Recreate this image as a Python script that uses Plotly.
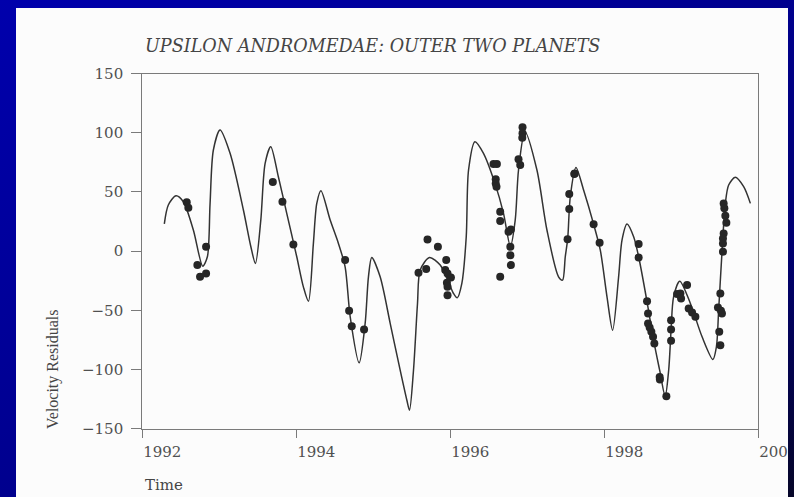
import base64
import plotly.graph_objects as go

# ---- Data ----
# Model curve (two outer planets), vertices
curve_year = [1992.286, 1992.338, 1992.438, 1992.533, 1992.663, 1992.785, 1992.845, 1992.88, 1992.923,
              1993.01, 1993.14, 1993.313, 1993.41, 1993.469, 1993.539, 1993.595, 1993.668, 1993.767,
              1993.876, 1994.006, 1994.092, 1994.158, 1994.222, 1994.266, 1994.32, 1994.44, 1994.547,
              1994.634, 1994.70, 1994.816, 1994.894, 1994.937, 1994.98, 1995.089, 1995.22, 1995.349,
              1995.436, 1995.47, 1995.522, 1995.574, 1995.609, 1995.73, 1995.869, 1995.956, 1996.042,
              1996.09, 1996.15, 1996.207, 1996.237, 1996.32, 1996.431, 1996.58, 1996.691, 1996.78,
              1996.843, 1996.886, 1996.97, 1997.125, 1997.255, 1997.406, 1997.458, 1997.493, 1997.525,
              1997.558, 1997.632, 1997.731, 1997.861, 1997.948, 1998.035, 1998.108, 1998.186, 1998.23,
              1998.295, 1998.381, 1998.446, 1998.555, 1998.64, 1998.719, 1998.79, 1998.836, 1998.867,
              1998.90, 1998.98, 1999.118, 1999.27, 1999.41, 1999.456, 1999.485, 1999.53, 1999.572,
              1999.615, 1999.70, 1999.81, 1999.897]
curve_vel = [23, 38.9, 46.7, 41.7, 17.8, -12.7, -4.8, 40, 85.4,
             102.3, 82.6, 34.7, 3.7, -10.4, 26.2, 74.1, 88.2, 62.8,
             31.9, -4.8, -30.2, -42.3, 6.5, 40.3, 51, 26.2, 6.5,
             -13.3, -55.5, -94.4, -61.1, -21.7, -5.4, -21.7, -61.2, -100.6,
             -126, -134.4, -100.6, -44.2, -16, -5.4, -11.8, -23, -35.8,
             -39.5, -27.3, 12.1, 68.5, 92.4, 82.6, 57.2, 31.9, 4,
             26.2, 68.5, 100.9, 68.5, 17.8, -21.7, -24.5, -4.8, 10.7,
             45.9, 70.7, 51.6, 22.8, 0.8, -38.6, -66.8, -21.7, 9.3,
             22.8, 12.1, -4.8, -42.8, -75.2, -100.6, -122.6, -100.6, -66.8,
             -38.6, -25.4, -44.2, -72.4, -91.5, -80.9, -49.9, 0.8, 40.3,
             55.8, 62.3, 54.4, 40.3]

# Observed velocity residuals
obs_year = [1992.577, 1992.598, 1992.715, 1992.75, 1992.828, 1992.828,
            1993.695, 1993.82, 1993.962,
            1994.634, 1994.686, 1994.72, 1994.88,
            1995.587, 1995.687, 1995.704, 1995.839, 1995.947, 1995.934, 1995.964, 1996.008,
            1995.956, 1995.964, 1995.964,
            1996.561, 1996.605, 1996.59, 1996.59, 1996.60, 1996.648, 1996.648, 1996.648,
            1996.756, 1996.787, 1996.78, 1996.78, 1996.787,
            1996.886, 1996.908, 1996.938, 1996.938, 1996.935,
            1997.61, 1997.616, 1997.545, 1997.545, 1997.523, 1997.861, 1997.939,
            1998.446, 1998.446, 1998.555, 1998.568, 1998.568, 1998.589, 1998.611, 1998.633, 1998.65,
            1998.719, 1998.722, 1998.806, 1998.867, 1998.867, 1998.867,
            1998.945, 1998.988, 1998.997, 1999.075, 1999.096, 1999.14, 1999.183,
            1999.55, 1999.559, 1999.572, 1999.585, 1999.55, 1999.541, 1999.541, 1999.541,
            1999.507, 1999.476, 1999.515, 1999.528, 1999.493, 1999.507]
obs_vel = [41.2, 36.6, -11.8, -21.7, -18.9, 3.7,
           58.3, 41.7, 5.6,
           -7.6, -50.4, -63.4, -66.2,
           -18.3, -15.2, 9.9, 3.7, -7.6, -16, -18.9, -22.3,
           -26.8, -30.2, -37.2,
           73.5, 73.5, 60.6, 57, 54.4, 33.2, 25.4, -21.7,
           16.3, 18.3, 3.7, -3.4, -11.8,
           77.5, 72.7, 104.6, 99.5, 95.8,
           65.1, 65.6, 48.2, 35.5, 10.1, 22.6, 7,
           5.9, -5.4, -42.3, -52.7, -61.1, -64.5, -68.2, -72.4, -78,
           -106.3, -108.4, -122.6, -58.3, -66.2, -75.8,
           -36.3, -35.8, -40, -28.7, -48.4, -51.8, -55.5,
           40.3, 36.1, 29.9, 24, 14.9, 10.7, 6.5, -0.6,
           -35.8, -47.6, -50.4, -52.7, -68.2, -79.5]

x_ticks = [1992, 1994, 1996, 1998, 2000]
y_ticks = [-150, -100, -50, 0, 50, 100, 150]

TITLE = "UPSILON ANDROMEDAE: OUTER TWO PLANETS"
Y_TITLE = "Velocity Residuals"
X_TITLE = "Time"

W, H = 794, 497

# ---- Blue slide frame (gradient) with a hole for the white page ----
svg = (
    f'<svg xmlns="http://www.w3.org/2000/svg" width="{W}" height="{H}" viewBox="0 0 {W} {H}">'
    '<defs><linearGradient id="g" x1="0" y1="0" x2="1" y2="1">'
    '<stop offset="0" stop-color="#0000AC"/>'
    '<stop offset="0.5" stop-color="#00008E"/>'
    '<stop offset="0.75" stop-color="#000070"/>'
    '<stop offset="1" stop-color="#060628"/>'
    '</linearGradient></defs>'
    f'<path fill="url(#g)" fill-rule="evenodd" d="M0 0H{W}V{H}H0Z M16 8H788V{H}H16Z"/>'
    '</svg>'
)
svg_uri = "data:image/svg+xml;base64," + base64.b64encode(svg.encode()).decode()

fig = go.Figure()
fig.add_trace(go.Scatter(
    x=curve_year, y=curve_vel, mode="lines",
    line=dict(color="#333333", width=1.5, shape="spline", smoothing=0.8),
    hoverinfo="skip", showlegend=False))
fig.add_trace(go.Scatter(
    x=obs_year, y=obs_vel, mode="markers",
    marker=dict(color="#262626", size=8, symbol="circle", line=dict(width=0)),
    showlegend=False))

def px(x):
    return x / W

def py(y):
    return 1 - y / H

axis_font = dict(family="DejaVu Serif", size=15, color="#505050")

fig.update_layout(
    width=W, height=H,
    margin=dict(l=0, r=0, t=0, b=0, pad=0, autoexpand=False),
    paper_bgcolor="#FCFCFC",
    plot_bgcolor="rgba(0,0,0,0)",
    xaxis=dict(
        domain=[px(142.3), px(758.3)], range=[1992, 2000],
        tickvals=x_ticks, ticktext=[str(v) for v in x_ticks],
        showgrid=False, zeroline=False, automargin=False,
        showline=True, linecolor="#7a7a7a", linewidth=1.2, mirror=True,
        ticks="outside", ticklen=8, tickwidth=1.2, tickcolor="#7a7a7a",
        tickfont=axis_font, ticklabelshift=20, ticklabelstandoff=1,
        ticklabeloverflow="allow",
    ),
    yaxis=dict(
        domain=[py(428.7), py(73.5)], range=[-150, 150],
        tickvals=y_ticks,
        showgrid=False, zeroline=False, automargin=False,
        showline=True, linecolor="#7a7a7a", linewidth=1.2, mirror=True,
        ticks="outside", ticklen=10, tickwidth=1.2, tickcolor="#7a7a7a",
        tickfont=axis_font, ticklabelstandoff=5,
        ticklabeloverflow="allow",
    ),
    images=[dict(source=svg_uri, xref="paper", yref="paper", x=0, y=1,
                 sizex=1, sizey=1, sizing="stretch", layer="above",
                 xanchor="left", yanchor="top")],
    annotations=[
        dict(text=TITLE, xref="paper", yref="paper", x=px(143), y=py(46),
             xanchor="left", yanchor="middle", showarrow=False,
             font=dict(family="DejaVu Serif", size=17.6, color="#454545", style="italic")),
        dict(text=Y_TITLE, xref="paper", yref="paper", x=px(53), y=py(369),
             xanchor="center", yanchor="middle", showarrow=False, textangle=-90,
             font=dict(family="Liberation Serif", size=16, color="#454545")),
        dict(text=X_TITLE, xref="paper", yref="paper", x=px(143), y=py(485),
             xanchor="left", yanchor="middle", showarrow=False,
             font=dict(family="DejaVu Serif", size=15, color="#454545")),
    ],
)

fig.write_html("out.html")
